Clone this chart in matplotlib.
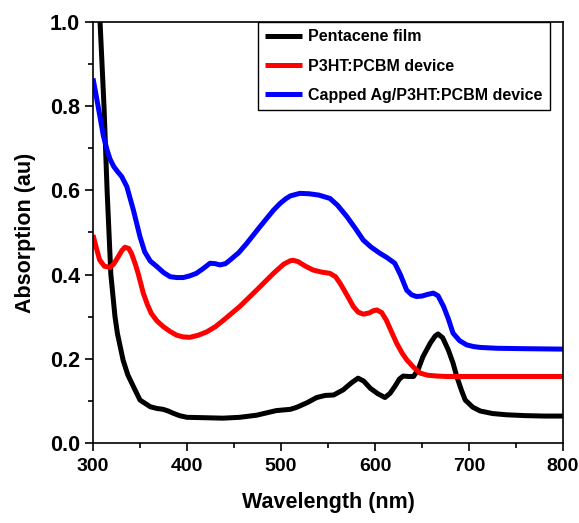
import matplotlib
matplotlib.use("Agg")
import matplotlib.pyplot as plt
from matplotlib.ticker import MultipleLocator

plt.rcParams["font.family"] = ["Liberation Sans", "DejaVu Sans"]
plt.rcParams["font.weight"] = "bold"

# values
wl_pent = [305, 307.5, 311.7, 315, 319, 323.4, 326, 332, 337, 343, 350, 361,
           368, 374.5, 380, 385, 392, 400, 420, 438, 456, 474, 495, 510, 517,
           528, 538, 547, 556, 566, 575, 582, 588, 595, 603, 610.6, 616, 621,
           626, 630, 636, 641, 646, 651, 659, 664, 667, 672, 678, 683, 687,
           692, 696, 704, 712, 725, 740, 760, 780, 800]
abs_pent = [1.08, 1.0, 0.8, 0.6, 0.4, 0.3, 0.26, 0.197, 0.162, 0.134, 0.102,
            0.086, 0.082, 0.08, 0.076, 0.071, 0.065, 0.061, 0.06, 0.059,
            0.061, 0.066, 0.077, 0.08, 0.085, 0.096, 0.108, 0.113, 0.114,
            0.126, 0.143, 0.154, 0.147, 0.13, 0.117, 0.108, 0.118, 0.134,
            0.152, 0.159, 0.158, 0.158, 0.175, 0.205, 0.238, 0.254, 0.259,
            0.25, 0.221, 0.19, 0.158, 0.125, 0.102, 0.085, 0.076, 0.07, 0.067,
            0.065, 0.064, 0.064]

wl_p3ht = [300, 303, 307, 312, 318, 322, 327, 331, 334, 338, 341, 345, 348,
           353.5, 358, 362, 368, 375, 382, 389, 396, 403, 412, 421, 430, 439,
           456, 474, 492, 503, 510, 513, 518, 526, 534, 543, 552, 558, 563,
           570, 577, 582, 587.5, 594, 598, 602, 607, 612, 618, 623, 629, 634,
           641, 648, 656, 666, 676, 700, 750, 800]
abs_p3ht = [0.494, 0.468, 0.435, 0.42, 0.417, 0.425, 0.443, 0.458, 0.465,
            0.462, 0.45, 0.425, 0.403, 0.356, 0.328, 0.308, 0.29, 0.276, 0.265,
            0.256, 0.252, 0.251, 0.256, 0.264, 0.276, 0.292, 0.324, 0.363,
            0.403, 0.425, 0.433, 0.434, 0.431, 0.42, 0.411, 0.406, 0.403,
            0.395, 0.379, 0.352, 0.324, 0.311, 0.306, 0.309, 0.314, 0.316,
            0.31, 0.292, 0.262, 0.237, 0.213, 0.197, 0.18, 0.166, 0.161, 0.159,
            0.158, 0.158, 0.158, 0.158]

wl_ag = [300, 303, 307, 311, 315, 318, 322, 326, 330.5, 336, 343, 350, 355,
         361, 368, 375, 382, 389, 396, 403, 410, 417, 424.5, 430, 435, 441,
         446, 455, 463.5, 477.7, 492, 499, 505, 510, 520, 530, 540, 552, 560,
         570, 579, 587.5, 596, 605, 613, 621, 627, 633.7, 639, 644, 650, 656,
         662, 667, 673, 678, 683, 690, 697.5, 705, 712, 730, 760, 800]
abs_ag = [0.866, 0.83, 0.78, 0.73, 0.696, 0.675, 0.657, 0.645, 0.633, 0.609,
          0.553, 0.49, 0.454, 0.432, 0.419, 0.405, 0.395, 0.393, 0.393, 0.397,
          0.403, 0.414, 0.427, 0.426, 0.423, 0.426, 0.435, 0.452, 0.474,
          0.514, 0.553, 0.569, 0.58, 0.587, 0.593, 0.592, 0.589, 0.581, 0.565,
          0.538, 0.51, 0.482, 0.465, 0.451, 0.44, 0.427, 0.4, 0.363, 0.352,
          0.348, 0.349, 0.353, 0.356, 0.35, 0.324, 0.295, 0.261, 0.243,
          0.233, 0.229, 0.227, 0.225, 0.224, 0.223]

labels = ["Pentacene film", "P3HT:PCBM device", "Capped Ag/P3HT:PCBM device"]
colors = ["black", "#ff0000", "#0000ff"]

fig = plt.figure(figsize=(5.79, 5.23), dpi=100)
ax = fig.add_axes([93 / 579, 80 / 523, 470 / 579, 421 / 523])

for x, y, lab, c in zip([wl_pent, wl_p3ht, wl_ag], [abs_pent, abs_p3ht, abs_ag],
                        labels, colors):
    ax.plot(x, y, color=c, lw=3.6, label=lab, solid_joinstyle="round",
            solid_capstyle="butt")

ax.set_xlim(300, 800)
ax.set_ylim(0, 1.0)
ax.xaxis.set_major_locator(MultipleLocator(100))
ax.xaxis.set_minor_locator(MultipleLocator(50))
ax.yaxis.set_major_locator(MultipleLocator(0.2))
ax.yaxis.set_minor_locator(MultipleLocator(0.1))
ax.tick_params(which="major", direction="out", length=6, width=1.2,
               labelsize=15.5, top=False, right=False)
ax.tick_params(axis="x", which="major", labelsize=14, pad=5)
ax.tick_params(which="minor", direction="out", length=3.5, width=1.2,
               top=False, right=False)
ax.set_yticklabels([f"{v:.1f}" for v in ax.get_yticks()])
for s in ax.spines.values():
    s.set_linewidth(1.2)

ax.set_xlabel("Wavelength (nm)", fontsize=15.5, fontweight="bold", labelpad=12)
ax.set_ylabel("Absorption (au)", fontsize=15.5, fontweight="bold", labelpad=10)

leg = ax.legend(loc="upper right", bbox_to_anchor=(550 / 579, 501 / 523),
                bbox_transform=fig.transFigure, fancybox=False, framealpha=1,
                edgecolor="black", fontsize=11.5, handlelength=2.3,
                borderpad=0.45, labelspacing=0.9, handletextpad=0.4,
                borderaxespad=0)
leg.get_frame().set_linewidth(1.0)

fig.savefig("out.png", dpi=100)
